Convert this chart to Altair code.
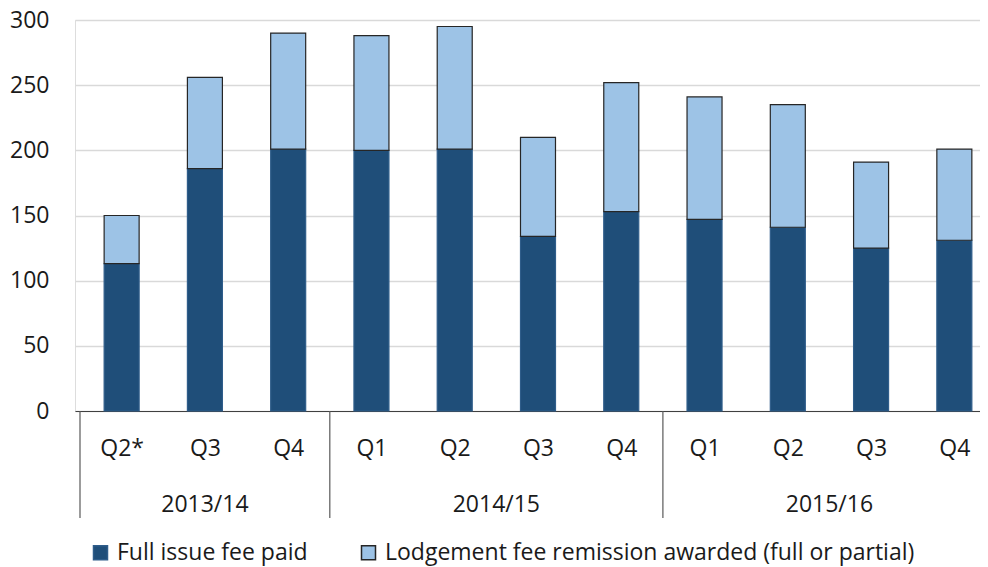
import altair as alt
import pandas as pd

quarters = ["Q2*", "Q3", "Q4", "Q1", "Q2", "Q3", "Q4", "Q1", "Q2", "Q3", "Q4"]
full_fee = [113, 186, 201, 200, 201, 134, 153, 147, 141, 125, 131]
remission = [37, 70, 89, 88, 94, 76, 99, 94, 94, 66, 70]
years = ["2013/14", "2014/15", "2015/16"]
year_centers = [1, 4.5, 8.5]
separators = [-0.5, 2.5, 6.5]
series = ["Full issue fee paid", "Lodgement fee remission awarded (full or partial)"]

FONT = "Open Sans"
FS = 23
TXT = "#1a1a1a"

rows = []
for i, q in enumerate(quarters):
    rows.append({"idx": i, "q": q, "series": series[0], "ord": 0, "value": full_fee[i]})
    rows.append({"idx": i, "q": q, "series": series[1], "ord": 1, "value": remission[i]})
df = pd.DataFrame(rows)

label_expr = "[" + ",".join("'%s'" % q for q in quarters) + "][datum.value]"

xscale = alt.Scale(domain=[-0.5, 10.248], nice=False, zero=False)

bars = alt.Chart(df).mark_bar(size=35, strokeWidth=1.2).encode(
    x=alt.X("idx:Q", scale=xscale,
            axis=alt.Axis(values=list(range(len(quarters))), labelExpr=label_expr,
                          title=None, grid=False, ticks=False, domainColor="#404040",
                          domainWidth=1.2, labelFont=FONT, labelFontSize=FS,
                          labelColor=TXT, labelPadding=26, labelFlush=False)),
    y=alt.Y("value:Q", stack="zero",
            scale=alt.Scale(domain=[0, 300], nice=False),
            axis=alt.Axis(values=[0, 50, 100, 150, 200, 250, 300], title=None,
                          domain=False, ticks=False, gridColor="#d9d9d9",
                          gridWidth=1.3, labelFont=FONT, labelFontSize=FS,
                          labelColor=TXT, labelPadding=26)),
    color=alt.Color("series:N",
                    scale=alt.Scale(domain=series, range=["#1f4e79", "#9dc3e6"]),
                    legend=alt.Legend(title=None, orient="none", legendX=14, legendY=521,
                                      padding=0, direction="horizontal", symbolType="square",
                                      symbolSize=196, labelFont=FONT, labelFontSize=23,
                                      labelColor=TXT, columnPadding=49, symbolOffset=0,
                                      labelOffset=5, labelLimit=0)),
    stroke=alt.Stroke("series:N",
                      scale=alt.Scale(domain=series, range=["#2f5d8a", "#262626"]),
                      legend=None),
    order=alt.Order("ord:Q", sort="ascending"),
)

sep_df = pd.DataFrame({"pos": separators})
seps = alt.Chart(sep_df).mark_rule(color="#595959", strokeWidth=1.2).encode(
    x=alt.X("pos:Q", scale=xscale),
    y=alt.value(391),
    y2=alt.value(498),
)

yr_df = pd.DataFrame({"c": year_centers, "label": years})
yr_text = alt.Chart(yr_df).mark_text(font=FONT, fontSize=FS, color=TXT,
                                     baseline="middle", align="center").encode(
    x=alt.X("c:Q", scale=xscale),
    y=alt.value(485),
    text="label:N",
)

chart = alt.layer(bars, seps, yr_text).properties(
    width=905, height=391,
    autosize=alt.AutoSizeParams(type="none"),
    padding={"left": 67, "top": 12, "right": 0, "bottom": 156},
).configure_view(stroke=None).configure(background="white")

chart.save("out.html", embed_options={"renderer": "svg", "actions": False})
